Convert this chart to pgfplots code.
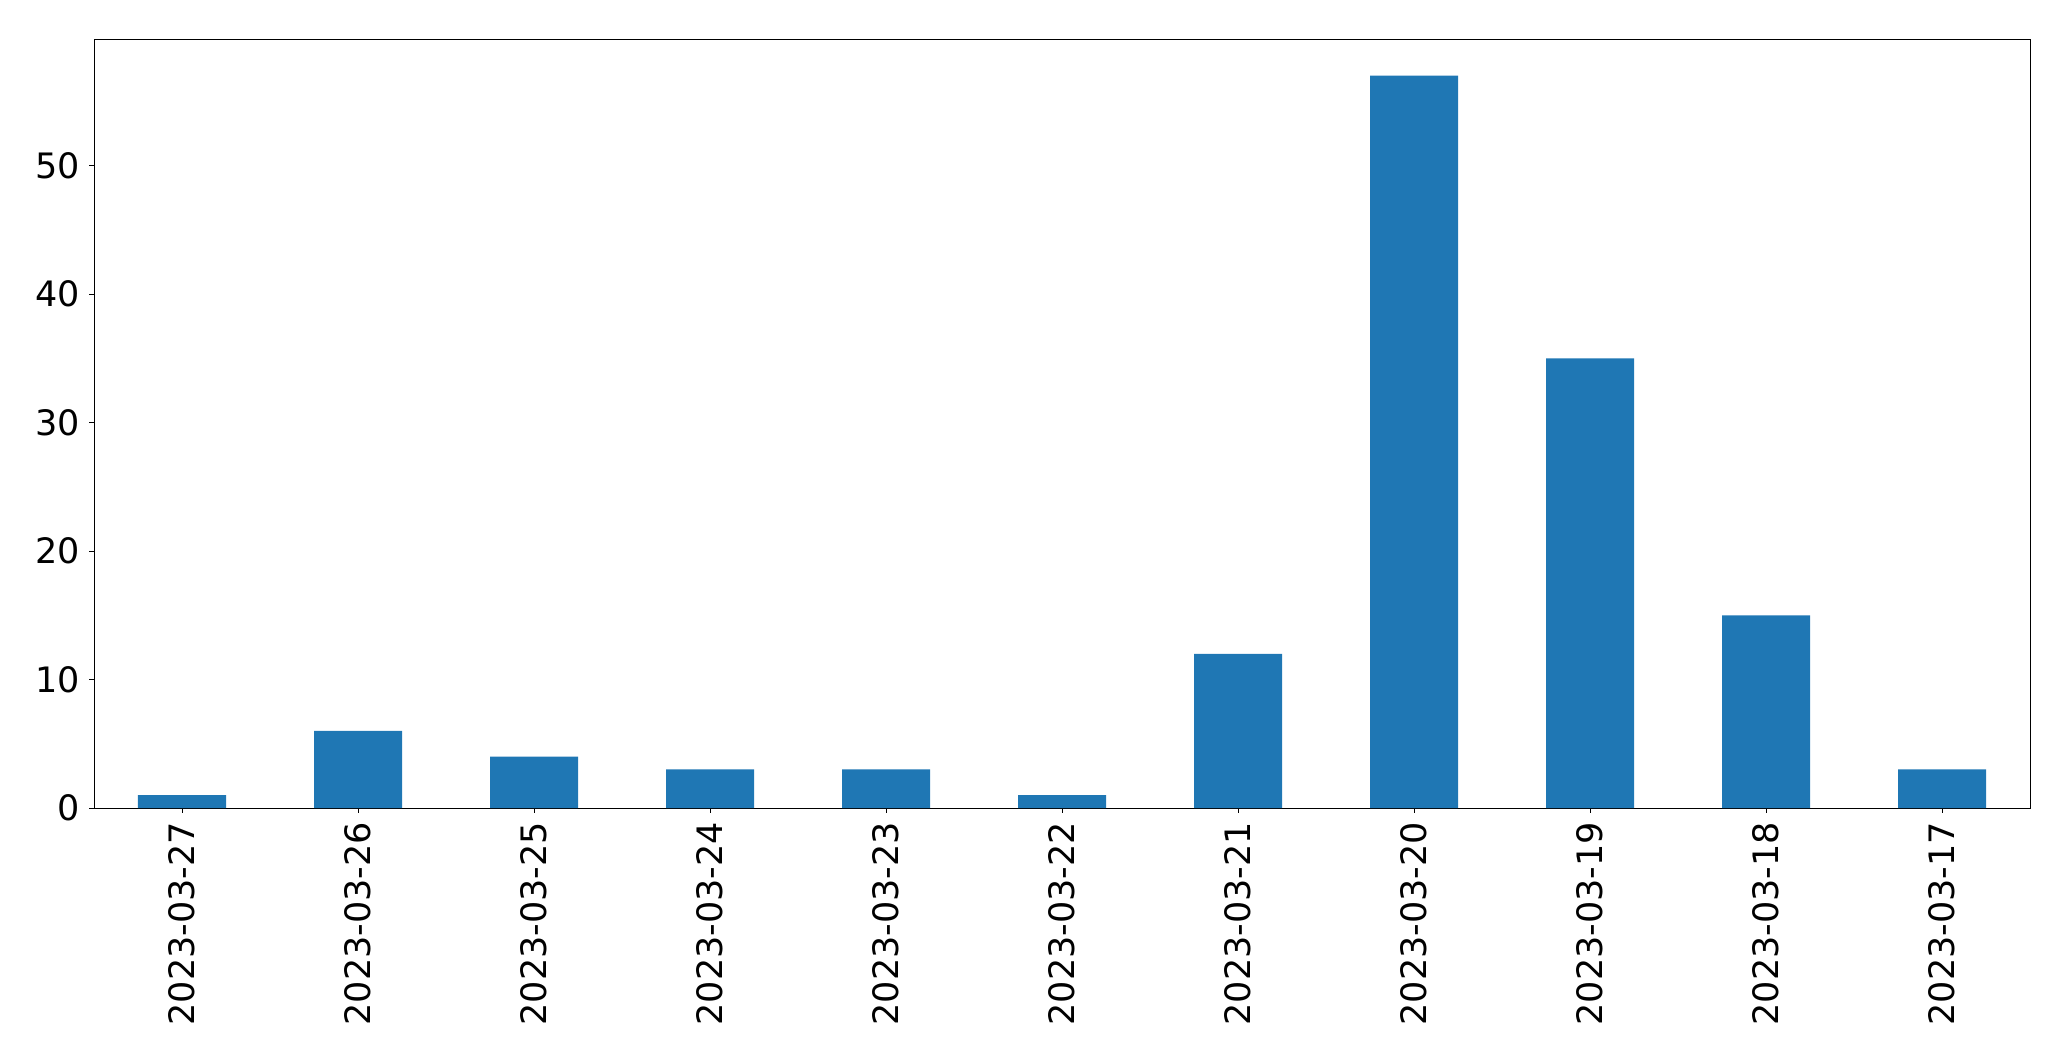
\documentclass[border=0pt]{standalone}
\usepackage{pgfplots}
\pgfplotsset{compat=1.18}
\usepackage{fontspec}
\setmainfont{DejaVu Sans}
\definecolor{tabblue}{HTML}{1F77B4}
\begin{document}
\begin{tikzpicture}
\useasboundingbox (-47pt,-126.5pt) rectangle (988.5pt,404pt);
\begin{axis}[
  at={(0,0)}, anchor=south west,
  scale only axis,
  width=968pt, height=384.5pt,
  xmin=-0.5, xmax=10.5,
  ymin=0, ymax=59.85,
  xtick={0,...,10},
  xticklabels={2023-03-27,2023-03-26,2023-03-25,2023-03-24,2023-03-23,2023-03-22,2023-03-21,2023-03-20,2023-03-19,2023-03-18,2023-03-17},
  ytick={0,10,20,30,40,50},
  x tick label style={rotate=90, anchor=east, font=\fontsize{17.5pt}{21pt}\selectfont},
  y tick label style={font=\fontsize{17.5pt}{21pt}\selectfont},
  /pgf/number format/assume math mode=true,
  tick align=outside,
  major tick length=2.45pt,
  xtick pos=bottom, ytick pos=left,
  tick style={black, line width=0.4pt},
  axis line style={black, line width=0.4pt},
  xticklabel shift=1pt,
  yticklabel shift=1pt,
]
\addplot[ybar, bar width=0.5, fill=tabblue, draw=none] coordinates {
 (0,1) (1,6) (2,4) (3,3) (4,3) (5,1) (6,12) (7,57) (8,35) (9,15) (10,3)
};
\end{axis}
\end{tikzpicture}
\end{document}
